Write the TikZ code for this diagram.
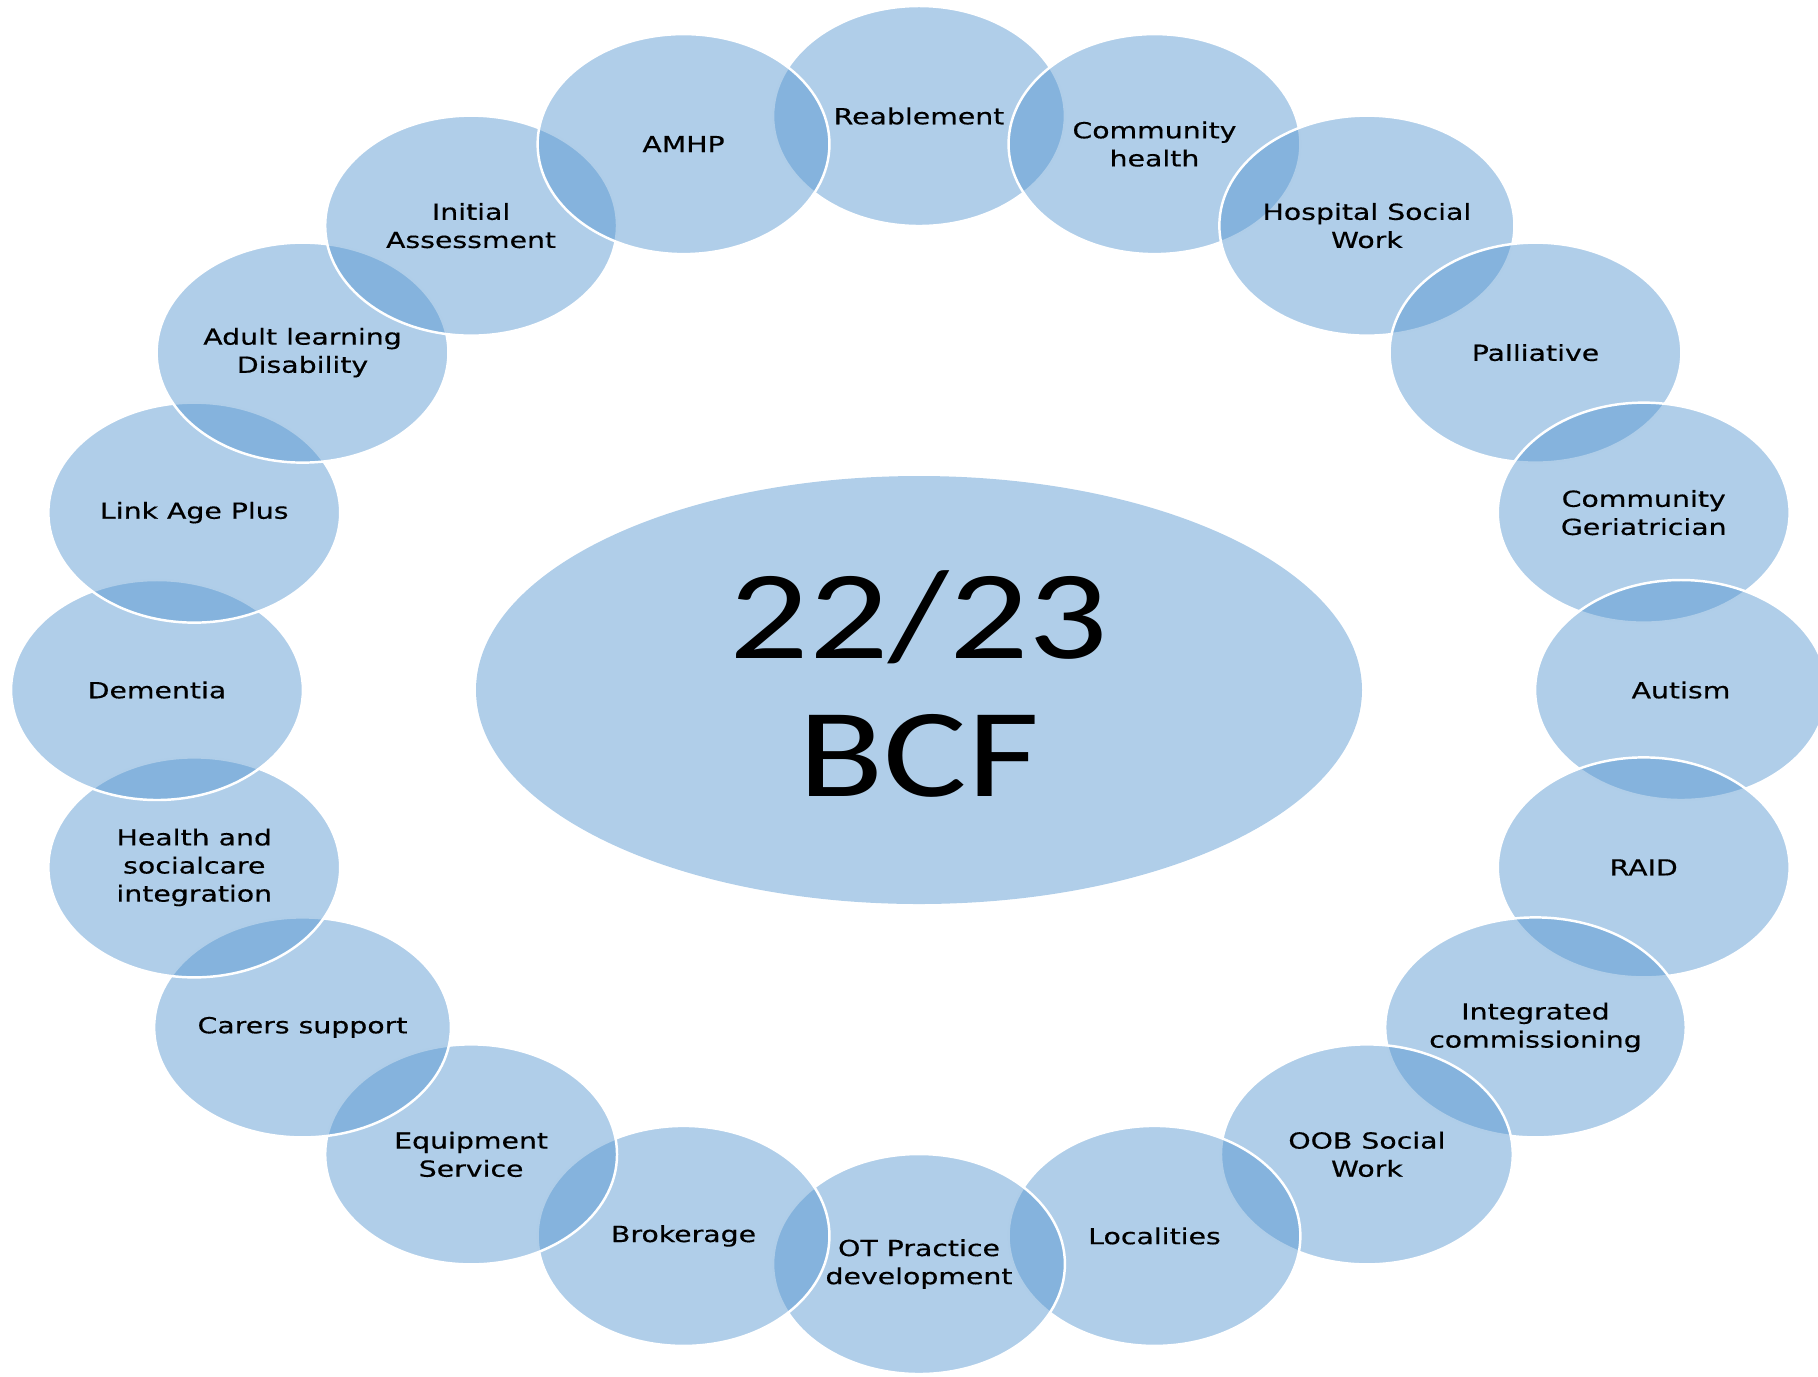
\documentclass[tikz,border=0pt]{standalone}
\usepackage{fontspec}
\setmainfont{DejaVu Sans}[FakeBold=0.4]
\newfontfamily\hubfont{Carlito}
\usetikzlibrary{shapes.geometric, calc}
\definecolor{ringblue}{RGB}{82,148,207}
\begin{document}
\begin{tikzpicture}[
    bubble/.style={ellipse, draw=white, line width=0.7pt, fill=ringblue,
      fill opacity=0.46, text opacity=1, xscale=1.28, minimum width=2.28cm,
      minimum height=2.20cm, inner sep=0pt, align=center,
      font=\fontsize{6.3}{8}\selectfont},
    hub/.style={ellipse, fill=ringblue, fill opacity=0.46,
      minimum width=8.86cm, minimum height=4.28cm, inner sep=0pt},
    title/.style={align=center, xscale=1.24, inner sep=0pt,
      font=\hubfont\fontsize{36}{39.3}\selectfont}]
\useasboundingbox (0,0) rectangle (18.18,-13.76);
\clip (0,0) rectangle (18.18,-13.76);
\coordinate (mid) at (9.19,-6.90);
% centre
\node[hub] (core) at (mid) {};
\node[title] (core-text) at ([yshift=0.06cm]core.center) {22/23\\BCF};
% ring, clockwise from the top
\foreach \txt [count=\i from 0] in {Reablement, {Community\\health},
    {Hospital Social\\Work}, Palliative, {Community\\Geriatrician}, Autism,
    RAID, {Integrated\\commissioning}, {OOB Social\\Work}, Localities,
    {OT Practice\\development}, Brokerage, {Equipment\\Service},
    Carers support, {Health and\\socialcare\\integration}, Dementia,
    Link Age Plus, {Adult learning\\Disability}, {Initial\\Assessment}, AMHP}
  \node[bubble] (b\i) at ($(mid)+(90-18*\i:7.62 and 5.74)$) {\txt};
\end{tikzpicture}
\end{document}
